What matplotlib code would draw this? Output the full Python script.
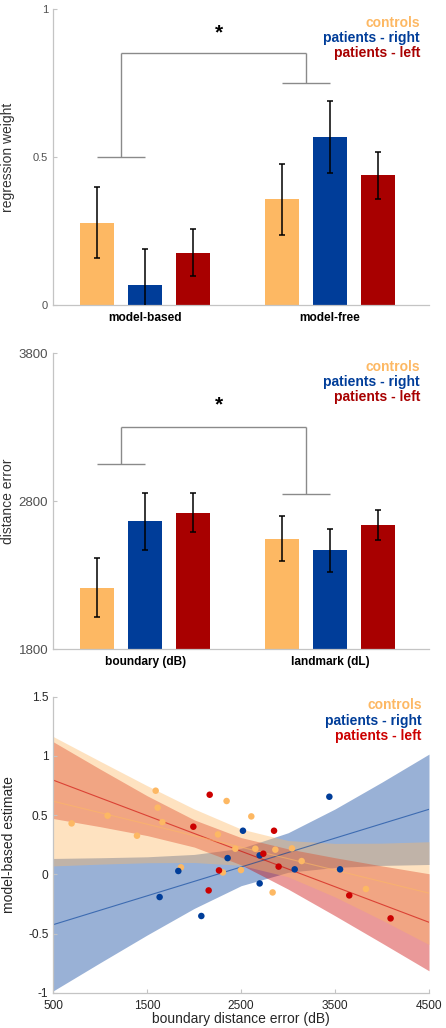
#!/usr/bin/env python3
"""
plot.py  --  regression weights / distance errors / model-based vs boundary error

Three stacked panels:
  1: regression weight per group (model-based, model-free) with bracket + star
  2: distance error per group (boundary, landmark) with bracket + star
  3: model-based estimate vs boundary distance error, fit lines with bands
"""

import numpy as np
import matplotlib
matplotlib.use('Agg')
import matplotlib.pyplot as plt

plt.rcParams['font.family'] = ['Liberation Sans', 'DejaVu Sans']

OUT_PNG = 'out.png'

GROUPS = ['controls', 'patients - right', 'patients - left']

# panel 1 -- regression weight (rows: category, cols: group)
RW_CATS = ['model-based', 'model-free']
RW_MEAN = [[0.279, 0.068, 0.178], [0.358, 0.569, 0.439]]
RW_ERR = [[0.120, 0.121, 0.080], [0.120, 0.122, 0.080]]
RW_TICKS = [0, 0.5, 1]
RW_TICKLABELS = ['0', '0.5', '1']
RW_BRACKET = [0.50, 0.85, 0.75]     # left arm, top, right arm
RW_STAR = 0.92

# panel 2 -- distance error
DE_CATS = ['boundary (dB)', 'landmark (dL)']
DE_MEAN = [[2217, 2665, 2723], [2548, 2469, 2642]]
DE_ERR = [[200, 194, 132], [151, 146, 101]]
DE_TICKS = [1800, 2800, 3800]
DE_TICKLABELS = ['1800', '2800', '3800']
DE_BRACKET = [3050, 3302, 2850]
DE_STAR = 3450

# panel 3 -- scatter
CTRL_X = [695, 1078, 1391, 1590, 1611, 1661, 1859, 2253, 2306, 2345,
          2438, 2498, 2608, 2651, 2864, 2835, 3041, 3144, 3829]
CTRL_Y = [0.430, 0.495, 0.326, 0.706, 0.563, 0.441, 0.059, 0.337, 0.016, 0.619,
          0.216, 0.036, 0.489, 0.216, 0.208, -0.153, 0.219, 0.112, -0.124]
RIGHT_X = [1632, 1831, 2076, 2356, 2519, 2697, 2697, 3070, 3439, 3553]
RIGHT_Y = [-0.192, 0.028, -0.352, 0.137, 0.368, 0.160, -0.077, 0.042, 0.655, 0.042]
LEFT_X = [1991, 2165, 2154, 2264, 2736, 2850, 2899, 3651, 4091]
LEFT_Y = [0.402, 0.672, -0.136, 0.033, 0.174, 0.368, 0.065, -0.178, -0.372]

# fit lines (value at x = 500 and x = 4500)
FIT_X = [500, 4500]
CTRL_FIT = [0.617, -0.159]
RIGHT_FIT = [-0.425, 0.549]
LEFT_FIT = [0.795, -0.405]

BAND_X = [500, 1000, 1500, 2000, 2500, 3000, 3500, 4000, 4500]
CTRL_HI = [1.163, 0.954, 0.748, 0.552, 0.382, 0.285, 0.261, 0.263, 0.275]
CTRL_LO = [0.071, 0.086, 0.098, 0.100, 0.076, -0.021, -0.191, -0.387, -0.593]
RIGHT_HI = [0.134, 0.140, 0.148, 0.168, 0.220, 0.351, 0.552, 0.779, 1.015]
RIGHT_LO = [-0.984, -0.746, -0.512, -0.288, -0.096, 0.017, 0.058, 0.075, 0.083]
LEFT_HI = [1.119, 0.888, 0.663, 0.460, 0.310, 0.215, 0.140, 0.071, 0.005]
LEFT_LO = [0.471, 0.402, 0.327, 0.230, 0.080, -0.125, -0.350, -0.581, -0.815]

SC_XTICKS = [500, 1500, 2500, 3500, 4500]
SC_YTICKS = [-1, -0.5, 0, 0.5, 1, 1.5]
SC_YTICKLABELS = ['-1', '-0.5', '0', '0.5', '1', '1.5']

# styling
BAR_COLORS = ['#FDB863', '#003D99', '#A80000']
SC_COLORS = ['#FDB863', '#003D99', '#CC0000']
SPINE_C = '#c4c4c4'
BRACKET_C = '#8a8a8a'
OFFSETS = [-0.26, 0.0, 0.26]
BAR_W = 0.185


# =============================================================================
# shared axis cosmetics
# =============================================================================
def style_axes(ax, labelcolor, labelsize):
    for s in ('top', 'right'):
        ax.spines[s].set_visible(False)
    for s in ('left', 'bottom'):
        ax.spines[s].set_color(SPINE_C)
        ax.spines[s].set_linewidth(0.9)
    ax.tick_params(axis='both', direction='in', length=3, color=SPINE_C,
                   labelcolor=labelcolor, labelsize=labelsize)


def group_legend(ax, colors, x, y0, dy):
    for i, (name, c) in enumerate(zip(GROUPS, colors)):
        ax.text(x, y0 - i * dy, name, transform=ax.transAxes, ha='right',
                va='center', color=c, fontsize=10, fontweight='bold')


# =============================================================================
# bar panels
# =============================================================================
def plot_bars(ax, cats, means, errs, ylim, ticks, ticklabels, ylabel,
              bracket, star_y, ticksize):
    for gi in range(len(cats)):
        for k in range(len(GROUPS)):
            x = gi + 1 + OFFSETS[k]
            ax.bar(x, means[gi][k] - ylim[0], bottom=ylim[0], width=BAR_W,
                   color=BAR_COLORS[k], edgecolor='none', zorder=2)
            ax.errorbar(x, means[gi][k], yerr=errs[gi][k], fmt='none',
                        ecolor='black', elinewidth=1.1, capsize=2,
                        capthick=1.1, zorder=3)

    # significance bracket
    l0, l1 = 1 + OFFSETS[0], 1 + OFFSETS[1]
    r0, r1 = 2 + OFFSETS[0], 2 + OFFSETS[1]
    lm, rm = (l0 + l1) / 2, (r0 + r1) / 2
    kw = dict(color=BRACKET_C, lw=1.0, solid_capstyle='butt', zorder=1)
    ax.plot([l0, l1], [bracket[0]] * 2, **kw)
    ax.plot([lm, lm], [bracket[0], bracket[1]], **kw)
    ax.plot([lm, rm], [bracket[1]] * 2, **kw)
    ax.plot([rm, rm], [bracket[1], bracket[2]], **kw)
    ax.plot([r0, r1], [bracket[2]] * 2, **kw)
    ax.text(1.40, star_y, '*', ha='center', va='center', fontsize=15,
            fontweight='bold', color='black')

    ax.set_xlim(0.5, 2.535)
    ax.set_ylim(*ylim)
    style_axes(ax, '#505050', ticksize)
    ax.set_yticks(ticks)
    ax.set_yticklabels(ticklabels)
    ax.set_xticks([1, 2])
    ax.tick_params(axis='x', length=0, pad=5)
    ax.set_xticklabels(cats, fontweight='bold', fontsize=8.6, color='black')
    ax.set_ylabel(ylabel, fontsize=10, color='#333333')
    ax.yaxis.set_label_coords(-0.10, 0.5)


# =============================================================================
# scatter panel
# =============================================================================
def plot_scatter(ax):
    bands = [(RIGHT_LO, RIGHT_HI, 1), (LEFT_LO, LEFT_HI, 2), (CTRL_LO, CTRL_HI, 0)]
    for lo, hi, k in bands:
        ax.fill_between(BAND_X, lo, hi, color=SC_COLORS[k], alpha=0.4,
                        lw=0, zorder=1)

    for fit, k in [(RIGHT_FIT, 1), (LEFT_FIT, 2), (CTRL_FIT, 0)]:
        ax.plot(FIT_X, fit, color=SC_COLORS[k], lw=0.8, alpha=0.6, zorder=2)

    for xs, ys, k in [(CTRL_X, CTRL_Y, 0), (RIGHT_X, RIGHT_Y, 1),
                      (LEFT_X, LEFT_Y, 2)]:
        ax.scatter(xs, ys, s=22, color=SC_COLORS[k], edgecolors='none',
                   zorder=4)

    ax.set_xlim(500, 4500)
    ax.set_ylim(-1, 1.5)
    ax.set_xticks(SC_XTICKS)
    ax.set_yticks(SC_YTICKS)
    ax.set_yticklabels(SC_YTICKLABELS)
    style_axes(ax, '#262626', 8.6)
    ax.tick_params(axis='x', pad=5)
    ax.set_xlabel('boundary distance error (dB)', fontsize=10,
                  color='#262626', labelpad=0)
    ax.set_ylabel('model-based estimate', fontsize=10, color='#262626')
    ax.yaxis.set_label_coords(-0.10, 0.5)


# =============================================================================
# Main
# =============================================================================
def main():
    fig = plt.figure(figsize=(4.46, 10.28), dpi=100)

    ax1 = fig.add_axes([0.1188, 0.703, 0.843, 0.2882])
    plot_bars(ax1, RW_CATS, RW_MEAN, RW_ERR, (0, 1), RW_TICKS, RW_TICKLABELS,
              'regression weight', RW_BRACKET, RW_STAR, 8)
    group_legend(ax1, BAR_COLORS, 0.976, 0.953, 0.051)

    ax2 = fig.add_axes([0.1188, 0.3684, 0.843, 0.288])
    plot_bars(ax2, DE_CATS, DE_MEAN, DE_ERR, (1800, 3800), DE_TICKS,
              DE_TICKLABELS, 'distance error', DE_BRACKET, DE_STAR, 9.5)
    group_legend(ax2, BAR_COLORS, 0.976, 0.955, 0.051)

    ax3 = fig.add_axes([0.1195, 0.0343, 0.8424, 0.288])
    plot_scatter(ax3)
    group_legend(ax3, SC_COLORS, 0.981, 0.972, 0.053)

    fig.savefig(OUT_PNG, dpi=100)
    plt.close(fig)


if __name__ == '__main__':
    main()
